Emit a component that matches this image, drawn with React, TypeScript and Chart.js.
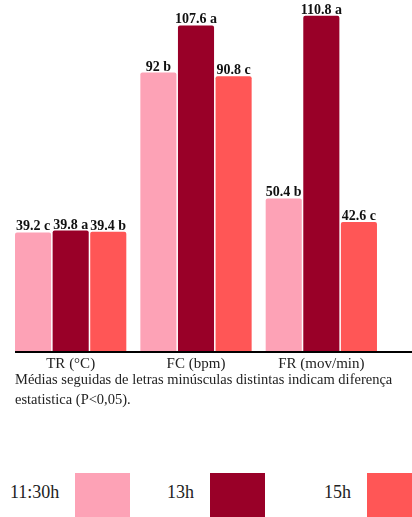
import React, { useEffect, useRef } from "react";
import { Chart, registerables } from "chart.js";

Chart.register(...registerables);

const categories = ["TR (°C)", "FC (bpm)", "FR (mov/min)"];
const seriesNames = ["11:30h", "13h", "15h"];
const values1130 = [39.2, 92, 50.4];
const values13 = [39.8, 107.6, 110.8];
const values15 = [39.4, 90.8, 42.6];
const letters1130 = ["c", "b", "b"];
const letters13 = ["a", "a", "a"];
const letters15 = ["b", "c", "c"];
const seriesColors = ["#FDA2B6", "#990028", "#FF5656"];
const noteLines = [
  "Médias seguidas de letras minúsculas distintas indicam diferença",
  "estatistica (P<0,05).",
];

const FONT = '"Liberation Serif", "Times New Roman", serif';

const allValues = [values1130, values13, values15];
const allLetters = [letters1130, letters13, letters15];

const valueLabelPlugin = {
  id: "valueLabels",
  afterDatasetsDraw(chart: any) {
    const ctx = chart.ctx;
    ctx.save();
    ctx.font = `bold 14px ${FONT}`;
    ctx.fillStyle = "#111";
    ctx.textAlign = "center";
    ctx.textBaseline = "alphabetic";
    chart.data.datasets.forEach((ds: any, di: number) => {
      const meta = chart.getDatasetMeta(di);
      meta.data.forEach((bar: any, i: number) => {
        const txt = `${ds.data[i]} ${ds.letters[i]}`;
        ctx.fillText(txt, bar.x, bar.y - 2);
      });
    });
    ctx.restore();
  },
};

const axisLinePlugin = {
  id: "axisLine",
  afterDatasetsDraw(chart: any) {
    const ctx = chart.ctx;
    const first = chart.getDatasetMeta(0).data[0];
    const y = chart.scales.y.getPixelForValue(0);
    ctx.save();
    ctx.strokeStyle = "#000";
    ctx.lineWidth = 2;
    ctx.beginPath();
    ctx.moveTo(first.x - first.width / 2, y + 1);
    ctx.lineTo(chart.width, y + 1);
    ctx.stroke();
    ctx.restore();
  },
};

function BarChart() {
  const ref = useRef<HTMLCanvasElement>(null);
  useEffect(() => {
    if (!ref.current) return;
    const chart = new Chart(ref.current, {
      type: "bar",
      data: {
        labels: categories,
        datasets: seriesNames.map((name, k) => ({
          label: name,
          data: allValues[k],
          letters: allLetters[k],
          backgroundColor: seriesColors[k],
          borderWidth: 0,
          borderRadius: 2,
          borderSkipped: "bottom",
          categoryPercentage: 0.9,
          barPercentage: 0.96,
        })) as any,
      },
      options: {
        animation: false,
        responsive: false,
        devicePixelRatio: 1,
        layout: { padding: { left: 8, right: 28, top: 0, bottom: 0 } },
        plugins: {
          legend: { display: false },
          tooltip: { enabled: false },
        },
        scales: {
          x: {
            grid: { display: false, drawTicks: false },
            border: { display: false },
            ticks: {
              color: "#222",
              padding: 4,
              maxRotation: 0,
              autoSkip: false,
              font: { family: FONT, size: 15 },
            },
          },
          y: {
            display: false,
            min: 0,
            max: 116,
          },
        },
      },
      plugins: [valueLabelPlugin, axisLinePlugin],
    });
    return () => chart.destroy();
  }, []);
  return <canvas ref={ref} width={412} height={377} style={{ display: "block" }} />;
}

const legendLefts = [10, 167, 324];

export default function App() {
  return (
    <div
      style={{
        position: "absolute",
        left: 0,
        top: 0,
        width: 412,
        height: 517,
        overflow: "hidden",
        background: "#fff",
        fontFamily: FONT,
      }}
    >
      <BarChart />
      <div
        style={{
          position: "absolute",
          left: 15,
          top: 369,
          fontSize: 14.5,
          lineHeight: "20px",
          color: "#222",
          whiteSpace: "nowrap",
        }}
      >
        {noteLines.map((l, i) => (
          <div key={i}>{l}</div>
        ))}
      </div>
      {seriesNames.map((name, k) => (
        <div
          key={name}
          style={{
            position: "absolute",
            left: legendLefts[k],
            top: 473,
            display: "flex",
            alignItems: "flex-start",
            whiteSpace: "nowrap",
          }}
        >
          <span style={{ fontSize: 18, lineHeight: "22px", marginTop: 8, color: "#222" }}>{name}</span>
          <span
            style={{
              display: "inline-block",
              width: 55,
              height: 44,
              marginLeft: 16,
              background: seriesColors[k],
            }}
          />
        </div>
      ))}
    </div>
  );
}
